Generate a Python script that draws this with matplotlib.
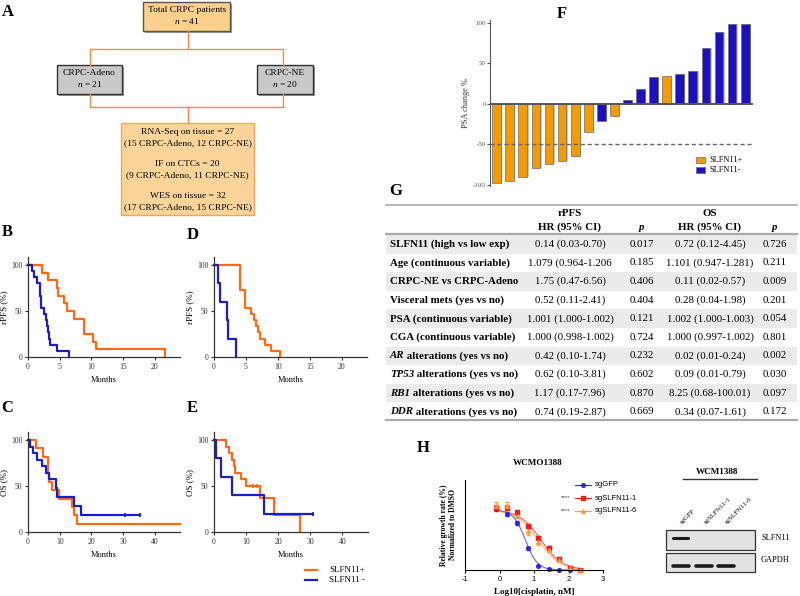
import numpy as np
import matplotlib
matplotlib.use("Agg")
import matplotlib.pyplot as plt
from matplotlib.patches import Rectangle

plt.rcParams['font.family'] = ['Liberation Serif', 'DejaVu Serif']
plt.rcParams['mathtext.fontset'] = 'custom'
plt.rcParams['mathtext.rm'] = 'Liberation Serif'
plt.rcParams['mathtext.it'] = 'Liberation Serif:italic'
plt.rcParams['mathtext.bf'] = 'Liberation Serif:bold'
plt.rcParams['axes.unicode_minus'] = False

W, H = 800, 596
ORANGE = '#ff6a13'
BLUE = '#1c1cc8'

# ---- data ----
# Kaplan-Meier step data (months, % surviving)
b_pos_t = [0, 2.2, 3.1, 4.6, 4.8, 5.7, 6.2, 7.2, 8.9, 10.3, 10.8, 21.6]
b_pos_s = [100, 91.7, 83.3, 75, 66.7, 58.3, 50, 41.7, 25, 16.7, 8.3, 0]
b_neg_t = [0, 0.6, 0.9, 1.4, 1.9, 1.95, 2.0, 2.05, 2.6, 2.8, 3.0, 3.2, 3.3, 3.5, 4.6, 6.4]
b_neg_s = [100, 93.3, 86.7, 80, 73.3, 66.7, 60, 53.3, 46.7, 40, 33.3, 26.7, 20, 13.3, 6.7, 0]

d_pos_t = [0, 4.0, 4.8, 5.8, 6.3, 6.6, 6.9, 7.2, 8.0, 9.0, 10.3]
d_pos_s = [100, 73.3, 53.3, 46.7, 40, 33.3, 26.7, 20, 13.3, 6.7, 0]
d_neg_t = [0, 0.7, 0.95, 2.0, 2.15, 3.4]
d_neg_s = [100, 80, 60, 40, 20, 0]

c_pos_t = [0, 2.5, 4.8, 6.2, 6.4, 6.6, 7.7, 9.9, 13.8, 14.4, 15.6, 48]
c_pos_s = [100, 90.9, 81.8, 72.7, 63.6, 54.5, 45.5, 36.4, 27.3, 18.2, 9.1, 9.1]
c_neg_t = [0, 0.6, 1.7, 2.8, 4.3, 5.6, 6.7, 8.8, 9.2, 14.5, 16.6, 35.4]
c_neg_s = [100, 92.9, 85.7, 78.6, 71.4, 64.3, 57.1, 47.6, 38.1, 28.6, 19.0, 19.0]
c_neg_cens = [30.7, 35.4]

e_pos_t = [0, 3.75, 4.7, 5.7, 6.25, 6.7, 8.5, 9.9, 14.4, 18.75, 26.7]
e_pos_s = [100, 92.9, 85.7, 78.6, 71.4, 64.3, 57.1, 50, 37.5, 18.8, 0]
e_pos_cens = [12.3, 13.3]
e_neg_t = [0, 0.6, 2.1, 5.7, 15.7, 30.8]
e_neg_s = [100, 80, 60, 40, 20, 20]
e_neg_cens = [30.8]

# waterfall PSA change
psa_change = [-98, -96, -90, -80, -75, -71, -65, -35, -21, -15,
              4.5, 17.7, 32.5, 33.7, 36.6, 40.7, 68.3, 88.5, 99, 99]
psa_group = ['+', '+', '+', '+', '+', '+', '+', '+', '-', '+',
             '-', '-', '-', '+', '-', '-', '-', '-', '-', '-']

# table
row_labels = ["SLFN11 (high vs low exp)", "Age (continuous variable)",
              "CRPC-NE vs CRPC-Adeno", "Visceral mets (yes vs no)",
              "PSA (continuous variable)", "CGA (continuous variable)",
              " alterations (yes vs no)", " alterations (yes vs no)",
              " alterations (yes vs no)", " alterations (yes vs no)"]
row_genes = [None, None, None, None, None, None, "AR", "TP53", "RB1", "DDR"]
rpfs_hr = ["0.14 (0.03-0.70)", "1.079 (0.964-1.206", "1.75 (0.47-6.56)",
           "0.52 (0.11-2.41)", "1.001 (1.000-1.002)", "1.000 (0.998-1.002)",
           "0.42 (0.10-1.74)", "0.62 (0.10-3.81)", "1.17 (0.17-7.96)",
           "0.74 (0.19-2.87)"]
rpfs_p = ["0.017", "0.185", "0.406", "0.404", "0.121", "0.724", "0.232",
          "0.602", "0.870", "0.669"]
os_hr = ["0.72 (0.12-4.45)", "1.101 (0.947-1.281)", "0.11 (0.02-0.57)",
         "0.28 (0.04-1.98)", "1.002 (1.000-1.003)", "1.000 (0.997-1.002)",
         "0.02 (0.01-0.24)", "0.09 (0.01-0.79)", "8.25 (0.68-100.01)",
         "0.34 (0.07-1.61)"]
os_p = ["0.726", "0.211", "0.009", "0.201", "0.054", "0.801", "0.002",
        "0.030", "0.097", "0.172"]

# dose response, log10 cisplatin nM vs relative growth %
log_dose = [-0.1, 0.22, 0.52, 0.83, 1.13, 1.43, 1.73, 2.03, 2.33]
growth_gfp = [102, 93, 78, 36, 7, 1, 0, 0, 0]
growth_sg1 = [104, 104, 97, 73, 54, 37, 19, 4, 0]
growth_sg6 = [107, 107, 90, 65, 47, 34, 17, 3, 0]
err_gfp = [3, 3, 3, 2, 1, 1, 0, 0, 0]
err_sg1 = [4, 4, 2, 3, 3, 3, 2, 1, 0]
err_sg6 = [6, 6, 3, 6, 5, 3, 2, 1, 0]
# 4PL fit parameters (logIC50, hill)
fit_gfp = (0.75, 2.5)
fit_sg1 = (1.2, 1.4)
fit_sg6 = (1.12, 1.4)


def box(x0, y0, x1, y1):
    return [x0 / W, 1 - y1 / H, (x1 - x0) / W, (y1 - y0) / H]


fig = plt.figure(figsize=(8, 5.96), dpi=100)
ax0 = fig.add_axes([0, 0, 1, 1])
ax0.set_xlim(0, W)
ax0.set_ylim(H, 0)
ax0.axis('off')

# panel letters
for lab, x, y in [('A', 8, 12), ('B', 7, 232), ('D', 193, 235), ('C', 7, 408),
                  ('E', 192, 408), ('F', 562, 14), ('G', 396, 191), ('H', 423, 448)]:
    ax0.text(x, y, lab, fontsize=12, fontweight='bold', ha='center', va='center')

# ---- A: flowchart ----
LINE = '#f08a50'


def fbox(x0, y0, x1, y1, fc, ec):
    ax0.add_patch(Rectangle((x0 + 2, y0 + 2), x1 - x0, y1 - y0, fc='#9a9a9a', ec='none'))
    ax0.add_patch(Rectangle((x0, y0), x1 - x0, y1 - y0, fc=fc, ec=ec, lw=1.0))


ax0.plot([188, 188], [31, 49], color=LINE, lw=1)
ax0.plot([90, 283], [49, 49], color=LINE, lw=1)
ax0.plot([90, 90], [49, 65], color=LINE, lw=1)
ax0.plot([283, 283], [49, 65], color=LINE, lw=1)
ax0.plot([90, 90], [94, 107], color=LINE, lw=1)
ax0.plot([283, 283], [94, 107], color=LINE, lw=1)
ax0.plot([90, 283], [107, 107], color=LINE, lw=1)
ax0.plot([188, 188], [107, 123], color=LINE, lw=1)

fbox(143, 2, 230, 31, '#fbd08a', '#555555')
ax0.text(187, 10, "Total CRPC patients", fontsize=6.8, ha='center', va='center')
ax0.text(187, 21, "$n$ = 41", fontsize=6.8, ha='center', va='center')
fbox(57, 65, 122, 94, '#c9c9c9', '#333333')
ax0.text(89.5, 73, "CRPC-Adeno", fontsize=6.8, ha='center', va='center')
ax0.text(89.5, 84, "$n$ = 21", fontsize=6.8, ha='center', va='center')
fbox(257, 65, 313, 94, '#c9c9c9', '#333333')
ax0.text(285, 73, "CRPC-NE", fontsize=6.8, ha='center', va='center')
ax0.text(285, 84, "$n$ = 20", fontsize=6.8, ha='center', va='center')
ax0.add_patch(Rectangle((121, 123), 133, 92, fc='#fcd49a', ec='#f4a460', lw=1.0))
for txt, y in [("RNA-Seq on tissue = 27", 132), ("(15 CRPC-Adeno, 12 CRPC-NE)", 143),
               ("IF on CTCs = 20", 164), ("(9 CRPC-Adeno, 11 CRPC-NE)", 175),
               ("WES on tissue = 32", 196), ("(17 CRPC-Adeno, 15 CRPC-NE)", 207)]:
    ax0.text(187.5, y, txt, fontsize=6.8, ha='center', va='center')


# ---- B-E: Kaplan-Meier ----
def km_axes(rect, xmax, xticks, ylabel, curves, cens):
    ax = fig.add_axes(box(*rect))
    ax.patch.set_alpha(0)
    for t, s, c in curves:
        ax.step(t, s, where='post', color=c, lw=1.6, clip_on=False)
    for xs, yv, c in cens:
        ax.plot(xs, [yv] * len(xs), ls='none', marker='|', ms=3, mew=1.2, color=c, clip_on=False)
    ax.set_xlim(0, xmax)
    ax.set_ylim(0, 108.7)
    ax.set_xticks(xticks)
    ax.set_yticks([0, 50, 100])
    for sp in ['top', 'right']:
        ax.spines[sp].set_visible(False)
    for sp in ['left', 'bottom']:
        ax.spines[sp].set_color('#333333')
        ax.spines[sp].set_linewidth(0.9)
    ax.tick_params(labelsize=5.5, length=2.5, width=0.8, pad=1.5, colors='#333333')
    ax.set_xlabel("Months", fontsize=6, labelpad=4)
    ax.set_ylabel(ylabel, fontsize=6.5, labelpad=2)
    return ax


km_axes((28, 257, 180, 357), 24, [0, 5, 10, 15, 20], "rPFS (%)",
        [(b_pos_t, b_pos_s, ORANGE), (b_neg_t, b_neg_s, BLUE)], [])
km_axes((214, 257, 367, 357), 24, [0, 5, 10, 15, 20], "rPFS (%)",
        [(d_pos_t, d_pos_s, ORANGE), (d_neg_t, d_neg_s, BLUE)], [])
km_axes((28, 432, 180, 532), 48, [0, 10, 20, 30, 40], "OS (%)",
        [(c_pos_t, c_pos_s, ORANGE), (c_neg_t, c_neg_s, BLUE)],
        [(c_neg_cens, 19.0, BLUE)])
km_axes((214, 432, 368, 532), 48, [0, 10, 20, 30, 40], "OS (%)",
        [(e_pos_t, e_pos_s, ORANGE), (e_neg_t, e_neg_s, BLUE)],
        [(e_pos_cens, 50, ORANGE), (e_neg_cens, 20, BLUE)])

ax0.plot([305, 317], [570, 570], color=ORANGE, lw=1.6)
ax0.plot([305, 317], [580, 580], color=BLUE, lw=1.6)
ax0.text(329, 570, "SLFN11+", fontsize=6.5, va='center')
ax0.text(329, 580, "SLFN11 -", fontsize=6.5, va='center')

# ---- F: waterfall ----
axf = fig.add_axes(box(490, 19.5, 753, 186.3))
axf.patch.set_alpha(0)
idx = np.arange(len(psa_change))
bar_cols = ['#f59b00' if g == '+' else '#1b10c4' for g in psa_group]
axf.bar(idx + 0.1, psa_change, width=0.67, color='#c8c8c8', zorder=1)
axf.bar(idx, psa_change, width=0.67, color=bar_cols, edgecolor='#6b6b6b', lw=0.5, zorder=2)
axf.axhline(0, color='#555555', lw=1.4, zorder=3)
axf.axhline(-50, color='#666666', lw=1.0, ls=(0, (3, 2)), zorder=3)
axf.set_xlim(-0.51, 19.6)
axf.set_ylim(-102, 104)
axf.set_yticks([-100, -50, 0, 50, 100])
axf.set_xticks([])
for sp in ['top', 'right', 'bottom']:
    axf.spines[sp].set_visible(False)
axf.spines['left'].set_color('#555555')
axf.tick_params(labelsize=5, length=2, width=0.8, pad=1, colors='#555555')
axf.set_ylabel("PSA change %", fontsize=6, color='#333333', labelpad=2)
axf.add_patch(Rectangle((0.783, 0.14), 0.034, 0.036, transform=axf.transAxes,
                        fc='#f59b00', ec='#6b6b6b', lw=0.5))
axf.add_patch(Rectangle((0.783, 0.08), 0.034, 0.036, transform=axf.transAxes,
                        fc='#1b10c4', ec='#6b6b6b', lw=0.5))
axf.text(0.833, 0.158, "SLFN11+", transform=axf.transAxes, fontsize=6, va='center')
axf.text(0.833, 0.098, "SLFN11-", transform=axf.transAxes, fontsize=6, va='center')

# ---- G: table ----
TX0, TX1 = 386, 797
col_x = [570, 642, 710, 775]
row_y0, row_dy = 244.3, 18.6
ax0.plot([TX0, TX1], [205, 205], color='#aaaaaa', lw=1.2)
ax0.text(col_x[0], 213, "rPFS", fontsize=7.8, fontweight='bold', ha='center', va='center')
ax0.text(col_x[2], 213, "OS", fontsize=7.8, fontweight='bold', ha='center', va='center')
ax0.text(col_x[0], 227, "HR (95% CI)", fontsize=7.8, fontweight='bold', ha='center', va='center')
ax0.text(col_x[2], 227, "HR (95% CI)", fontsize=7.8, fontweight='bold', ha='center', va='center')
ax0.text(col_x[1], 228, "p", fontsize=7.8, fontweight='bold', style='italic', ha='center', va='center')
ax0.text(col_x[3], 228, "p", fontsize=7.8, fontweight='bold', style='italic', ha='center', va='center')
ax0.plot([TX0, TX1], [234, 234], color='#aaaaaa', lw=1.6)
fig.canvas.draw()
rend = fig.canvas.get_renderer()
for i in range(len(row_labels)):
    yc = row_y0 + i * row_dy
    if i % 2 == 0:
        ax0.add_patch(Rectangle((TX0, yc - row_dy / 2), TX1 - TX0, row_dy, fc='#ebebeb', ec='none', zorder=0))
    x = 390
    if row_genes[i]:
        t = ax0.text(x, yc, row_genes[i], fontsize=7.8, fontweight='bold', style='italic', va='center')
        bb = t.get_window_extent(renderer=rend)
        x = x + bb.width
    ax0.text(x, yc, row_labels[i], fontsize=7.8, fontweight='bold', va='center')
    ax0.text(col_x[0], yc, rpfs_hr[i], fontsize=7.8, ha='center', va='center')
    ax0.text(col_x[1], yc, rpfs_p[i], fontsize=7.8, ha='center', va='center')
    ax0.text(col_x[2], yc, os_hr[i], fontsize=7.8, ha='center', va='center')
    ax0.text(col_x[3], yc, os_p[i], fontsize=7.8, ha='center', va='center')
ax0.plot([TX0, TX1], [420, 420], color='#aaaaaa', lw=1.6)

# ---- H: dose response ----
axh = fig.add_axes(box(465, 480, 603, 570))
axh.patch.set_alpha(0)
xx = np.linspace(-0.1, 2.35, 200)
series = [(growth_gfp, err_gfp, fit_gfp, '#2626ff', 'o', 2.6),
          (growth_sg1, err_sg1, fit_sg1, '#ff1a1a', 's', 2.8),
          (growth_sg6, err_sg6, fit_sg6, '#ff9a33', '^', 2.6)]
for g, e, (lic, hill), c, m, ms in series:
    yy = 100 / (1 + 10 ** ((xx - lic) * hill))
    axh.plot(xx, yy, color=c, lw=0.8, alpha=0.7)
    axh.errorbar(log_dose, g, yerr=e, fmt=m, color=c, ms=ms, elinewidth=0.6, capsize=1.2, clip_on=False)
axh.set_xlim(-1, 3)
axh.set_ylim(0, 150)
axh.set_xticks([-1, 0, 1, 2, 3])
axh.set_yticks([])
for sp in ['top', 'right']:
    axh.spines[sp].set_visible(False)
axh.tick_params(labelsize=5.5, length=2.5, width=0.8, pad=1.5)
for lbl in axh.get_xticklabels():
    lbl.set_fontfamily('Liberation Sans')
axh.set_xlabel("Log10[cisplatin, nM]", fontsize=6.5, fontweight='bold', labelpad=4)
axh.set_ylabel("Relative growth rate (%)\nNormalized to DMSO", fontsize=5.5,
               fontweight='bold', labelpad=6, linespacing=1.1)
ax0.text(538, 463, "WCMO1388", fontsize=6.6, fontweight='bold', ha='center', va='center')
for (g, e, fp, c, m, ms), lab, y, star in zip(series, ["sgGFP", "sgSLFN11-1", "sgSLFN11-6"],
                                             [485, 498, 511], [False, True, True]):
    ax0.plot([575, 591], [y, y], color=c, lw=0.8)
    ax0.plot([583], [y], marker=m, color=c, ms=ms)
    ax0.text(595, y, lab, fontsize=5.5, family='Liberation Sans', va='center')
    if star:
        ax0.text(566, y, "****", fontsize=4.5, family='Liberation Sans', va='center', ha='center', color='#444444')

# western blot
ax0.text(717, 471.5, "WCM1388", fontsize=6.6, fontweight='bold', ha='center', va='center')
ax0.plot([683, 757], [479, 479], color='#333333', lw=1)
for x, lab in [(683, "sgGFP"), (707, "sgSLFN11-1"), (728, "sgSLFN11-6")]:
    ax0.text(x, 525, lab, fontsize=5, rotation=45, rotation_mode='anchor', ha='left', va='bottom')
ax0.add_patch(Rectangle((666, 529.5), 89, 20, fc='#e2e2e2', ec='#333333', lw=0.9))
ax0.add_patch(Rectangle((666, 552.5), 89, 19, fc='#e2e2e2', ec='#333333', lw=0.9))
ax0.plot([673, 688], [538, 538], color='#1a1a1a', lw=2.2, solid_capstyle='round')
for x0 in [673, 696, 718]:
    ax0.plot([x0, x0 + 16], [565.5, 565.5], color='#1a1a1a', lw=2.6, solid_capstyle='round')
ax0.text(761, 538, "SLFN11", fontsize=6, va='center')
ax0.text(761, 560.5, "GAPDH", fontsize=6, va='center')

fig.savefig("out.png", dpi=100)
